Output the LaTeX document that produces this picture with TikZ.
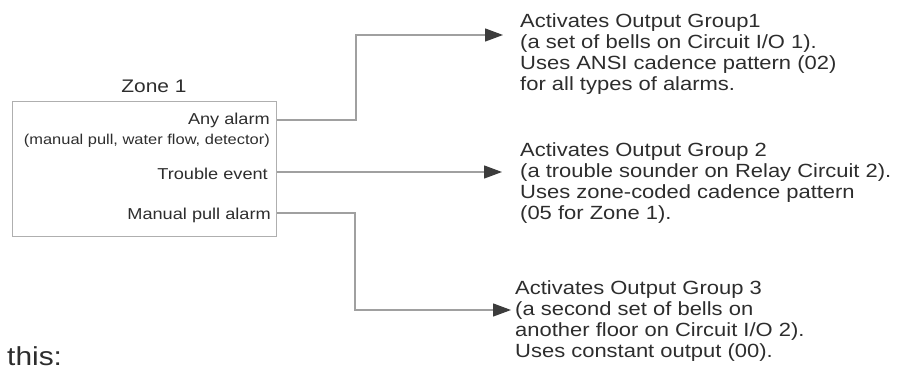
\documentclass[tikz,border=0pt]{standalone}
\usepackage{fontspec}
\setmainfont{Liberation Sans}[FakeStretch=1.15]
\usetikzlibrary{arrows.meta}
\definecolor{txt}{RGB}{45,45,45}
\definecolor{ln}{RGB}{160,160,160}
\definecolor{boxln}{RGB}{175,175,175}
\definecolor{arr}{RGB}{60,60,60}
\tikzset{
  conn/.style={draw=ln, line width=1.3pt, -{Triangle[length=18pt,width=13pt,color=arr]}},
  port/.style={anchor=base east, inner sep=0pt, text=txt, font=\fontsize{15.8}{17}\selectfont},
  note/.style={anchor=base east, inner sep=0pt, text=txt, font=\fontsize{14.3}{16}\selectfont},
  desc/.style={anchor=north west, inner sep=0pt, text=txt, align=left, font=\fontsize{19.1}{21}\selectfont},
}
\begin{document}
\begin{tikzpicture}[x=1pt,y=-1pt]
\useasboundingbox (0,0) rectangle (897,371);
\node[draw=boxln, line width=1.2pt, minimum width=264pt, minimum height=135pt, anchor=north west, inner sep=0pt] (zone) at (12,101) {};
\node[anchor=base, inner sep=0pt, text=txt, font=\fontsize{18.2}{20}\selectfont] (title) at (154,93) {Zone 1};
\node[port] (any) at (270,125) {Any alarm};
\node[note] (anynote) at (270,145) {(manual pull, water flow, detector)};
\node[port] (trouble) at (268,180) {Trouble event};
\node[port] (manual) at (271,220) {Manual pull alarm};

\node[desc] (g1) at (520,13.5) {Activates Output Group1\\(a set of bells on Circuit I/O 1).\\Uses ANSI cadence pattern (02)\\for all types of alarms.};
\node[desc] (g2) at (520,142.5) {Activates Output Group 2\\(a trouble sounder on Relay Circuit 2).\\Uses zone-coded cadence pattern\\(05 for Zone 1).};
\node[desc] (g3) at (515,280.5) {Activates Output Group 3\\(a second set of bells on\\another floor on Circuit I/O 2).\\Uses constant output (00).};

\coordinate (t1) at (503,35);
\coordinate (t2) at (502,172);
\coordinate (t3) at (511,310);

\draw[conn] (zone.east |- 0,120) -- (356,120) -- (356,35) -- (t1);
\draw[conn] (zone.east |- 0,172) -- (t2);
\draw[conn] (zone.east |- 0,213) -- (355,213) -- (355,310) -- (t3);

\node[anchor=base west, inner sep=0pt, text=txt, font=\fontsize{26}{28}\selectfont] (this) at (7,366) {this:};
\end{tikzpicture}
\end{document}
